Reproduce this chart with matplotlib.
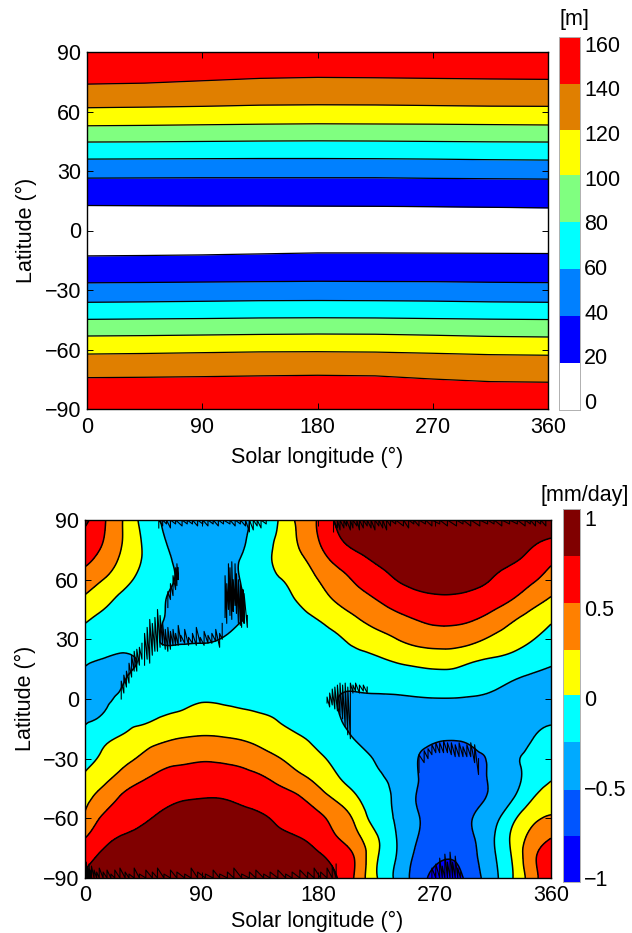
import numpy as np
import matplotlib
matplotlib.use("Agg")
import matplotlib.pyplot as plt
import matplotlib.tri as mtri
from matplotlib.colors import ListedColormap, BoundaryNorm

plt.rcParams['font.family'] = ['Liberation Sans', 'DejaVu Sans']
plt.rcParams['font.size'] = 15.5

W, H = 632, 933

# --- top panel: latitude of each contour level, read at these solar longitudes
top_ls = [0, 45, 90, 135, 180, 225, 270, 315, 360]
top_levels = [17, 38, 59, 80, 101, 121.5, 142, 163]
top_colors = ['#ffffff', '#0000ff', '#0080ff', '#00ffff', '#80ff80', '#ffff00', '#e07f00', '#ff0000']
top_cbar_ticks = [0, 20, 40, 60, 80, 100, 120, 140, 160]

north_17 = [12.6, 12.5, 12.4, 12.4, 12.3, 12.2, 12.0, 11.7, 11.4]
north_38 = [26.4, 26.5, 26.6, 26.6, 26.6, 26.6, 26.3, 26.1, 25.9]
north_59 = [36.0, 36.1, 36.2, 36.3, 36.3, 36.2, 36.0, 35.7, 35.5]
north_80 = [44.6, 44.7, 44.9, 45.1, 45.2, 45.1, 44.9, 44.7, 44.6]
north_101 = [52.8, 53.0, 53.3, 53.6, 53.8, 53.7, 53.6, 53.4, 53.2]
north_121 = [61.9, 62.2, 62.6, 63.2, 63.4, 63.3, 63.0, 62.7, 62.6]
north_142 = [73.8, 74.3, 75.5, 76.7, 77.2, 77.0, 76.7, 76.4, 76.2]
south_17 = [-12.8, -12.6, -12.3, -11.8, -11.3, -11.3, -11.4, -11.5, -11.6]
south_38 = [-26.4, -26.2, -26.0, -25.8, -25.6, -25.7, -25.8, -26.1, -26.3]
south_59 = [-36.2, -36.0, -35.7, -35.4, -35.3, -35.4, -35.6, -36.0, -36.2]
south_80 = [-44.8, -44.6, -44.4, -44.1, -44.0, -44.1, -44.4, -44.7, -44.9]
south_101 = [-53.2, -53.0, -52.7, -52.4, -52.2, -52.3, -52.8, -53.4, -53.7]
south_121 = [-62.3, -62.0, -61.6, -61.2, -61.1, -61.3, -61.9, -62.6, -62.9]
south_142 = [-74.2, -74.0, -73.7, -73.3, -73.0, -73.3, -74.9, -76.2, -76.5]

# --- bottom panel: field in mm/day, rows from 90N to 90S, columns every 15 deg
bot_ls = list(range(0, 361, 15))
bot_lat = list(range(90, -91, -10))
bot_levels = [-1.02, -0.767, -0.507, -0.243, 0.017, 0.27, 0.53, 0.79, 1.05]
bot_colors = ['#0000ff', '#0055ff', '#00aaff', '#00ffff', '#ffff00', '#ff8000', '#ff0000', '#800000']
bot_cbar_ticks = [-1, -0.5, 0, 0.5, 1]
bot_cbar_labels = ['\u22121', '\u22120.5', '0', '0.5', '1']

row_p90 = [0.85, 0.55, 0.25, -0.06, -0.26, -0.35, -0.36, -0.36, -0.32, -0.15, 0.03, 0.33, 0.55, 0.84, 0.95, 1.0, 1.0, 1.0, 1.0, 1.0, 1.0, 1.0, 1.0, 1.0, 1.0]
row_p80 = [0.70, 0.52, 0.25, -0.01, -0.22, -0.33, -0.36, -0.34, -0.28, -0.13, 0.07, 0.29, 0.52, 0.75, 0.88, 0.95, 0.98, 1.0, 1.0, 1.0, 1.0, 0.98, 0.92, 0.84, 0.77]
row_p70 = [0.59, 0.42, 0.20, 0.0, -0.17, -0.30, -0.33, -0.32, -0.24, -0.13, 0.10, 0.22, 0.40, 0.60, 0.72, 0.82, 0.88, 0.93, 0.95, 0.95, 0.92, 0.88, 0.82, 0.72, 0.58]
row_p60 = [0.40, 0.26, 0.10, -0.07, -0.19, -0.27, -0.31, -0.31, -0.24, -0.11, 0.0, 0.13, 0.27, 0.42, 0.57, 0.69, 0.79, 0.85, 0.87, 0.87, 0.85, 0.78, 0.68, 0.57, 0.42]
row_p50 = [0.23, 0.09, -0.05, -0.14, -0.23, -0.28, -0.30, -0.30, -0.26, -0.12, -0.06, 0.04, 0.17, 0.30, 0.42, 0.53, 0.63, 0.71, 0.75, 0.75, 0.71, 0.64, 0.53, 0.38, 0.24]
row_p40 = [0.05, -0.05, -0.10, -0.17, -0.24, -0.27, -0.28, -0.27, -0.25, -0.18, -0.12, -0.06, 0.02, 0.13, 0.25, 0.37, 0.46, 0.53, 0.58, 0.58, 0.54, 0.44, 0.30, 0.17, 0.05]
row_p30 = [-0.10, -0.13, -0.18, -0.20, -0.25, -0.26, -0.26, -0.24, -0.20, -0.17, -0.14, -0.10, -0.06, -0.01, 0.08, 0.16, 0.26, 0.35, 0.39, 0.39, 0.33, 0.22, 0.13, 0.03, -0.07]
row_p20 = [-0.21, -0.25, -0.26, -0.23, -0.20, -0.18, -0.17, -0.16, -0.15, -0.13, -0.12, -0.11, -0.10, -0.08, -0.05, -0.01, 0.05, 0.10, 0.13, 0.12, 0.05, 0.0, -0.05, -0.13, -0.20]
row_p10 = [-0.30, -0.31, -0.25, -0.20, -0.17, -0.15, -0.14, -0.13, -0.12, -0.12, -0.13, -0.14, -0.16, -0.19, -0.17, -0.15, -0.13, -0.10, -0.08, -0.08, -0.12, -0.17, -0.23, -0.28, -0.31]
row_000 = [-0.35, -0.28, -0.20, -0.14, -0.10, -0.05, -0.01, -0.02, -0.04, -0.07, -0.09, -0.12, -0.16, -0.24, -0.27, -0.27, -0.27, -0.26, -0.25, -0.25, -0.26, -0.28, -0.31, -0.34, -0.36]
row_m10 = [-0.27, -0.20, -0.07, -0.03, 0.04, 0.08, 0.13, 0.12, 0.09, 0.06, 0.0, -0.08, -0.15, -0.23, -0.29, -0.33, -0.36, -0.38, -0.38, -0.38, -0.37, -0.36, -0.34, -0.30, -0.27]
row_m20 = [-0.19, -0.03, 0.05, 0.15, 0.23, 0.28, 0.30, 0.29, 0.26, 0.20, 0.12, 0.05, -0.05, -0.15, -0.26, -0.33, -0.39, -0.45, -0.49, -0.50, -0.48, -0.43, -0.36, -0.25, -0.18]
row_m30 = [-0.06, 0.07, 0.20, 0.32, 0.43, 0.47, 0.50, 0.49, 0.46, 0.38, 0.28, 0.17, 0.06, -0.04, -0.15, -0.26, -0.35, -0.49, -0.55, -0.55, -0.53, -0.47, -0.30, -0.18, -0.07]
row_m40 = [0.06, 0.21, 0.38, 0.51, 0.61, 0.66, 0.67, 0.66, 0.62, 0.57, 0.46, 0.34, 0.20, 0.04, -0.10, -0.20, -0.31, -0.48, -0.58, -0.60, -0.58, -0.47, -0.33, -0.14, 0.0]
row_m50 = [0.20, 0.40, 0.58, 0.68, 0.75, 0.78, 0.79, 0.79, 0.76, 0.72, 0.65, 0.56, 0.40, 0.23, 0.04, -0.15, -0.28, -0.50, -0.60, -0.62, -0.58, -0.45, -0.26, 0.0, 0.16]
row_m60 = [0.32, 0.58, 0.68, 0.76, 0.82, 0.86, 0.88, 0.87, 0.85, 0.82, 0.75, 0.67, 0.59, 0.42, 0.20, -0.10, -0.26, -0.46, -0.60, -0.62, -0.50, -0.33, -0.05, 0.20, 0.30]
row_m70 = [0.53, 0.72, 0.82, 0.88, 0.93, 0.96, 0.97, 0.97, 0.96, 0.92, 0.85, 0.80, 0.70, 0.54, 0.33, 0.05, -0.23, -0.48, -0.62, -0.62, -0.52, -0.27, 0.06, 0.35, 0.53]
row_m80 = [0.72, 0.85, 0.93, 0.98, 1.0, 1.0, 1.0, 1.0, 1.0, 0.98, 0.95, 0.90, 0.83, 0.72, 0.48, 0.05, -0.24, -0.55, -0.72, -0.75, -0.57, -0.29, 0.03, 0.45, 0.68]
row_m90 = [0.83, 0.92, 1.0, 1.0, 1.0, 1.0, 1.0, 1.0, 1.0, 1.0, 0.98, 0.95, 0.88, 0.79, 0.46, 0.04, -0.28, -0.60, -0.83, -0.85, -0.63, -0.33, 0.0, 0.40, 0.75]

# noisy contour stretches of the bottom panel: longitude, lowest and highest latitude
noise_a_ls = [108.2, 109.5, 110.8, 112, 113.4, 114.5, 115.9, 117, 118.5, 120, 121, 122, 122.9, 125.4]
noise_a_lo = [41, 38, 45, 42, 40, 44, 47, 43, 38, 37, 36, 39, 38, 36]
noise_a_hi = [62, 58, 68, 66, 69, 60, 68, 63, 60, 58, 56, 55, 53, 42]
noise_b_ls = [46, 48, 50, 52, 54, 56, 58, 60, 62, 64, 66, 68, 70, 72, 74, 77, 80, 83, 86, 89, 92, 95, 98, 101, 104, 106]
noise_b_lo = [17, 20, 18, 22, 24, 24, 26, 27, 25, 24, 25, 27, 27, 27, 29, 28, 27, 28, 27, 28, 27, 28, 28, 29, 26, 30]
noise_b_hi = [33, 36, 40, 38, 41, 45, 42, 38, 35, 36, 34, 35, 33, 37, 32, 35, 31, 33, 36, 31, 34, 32, 33, 35, 33, 38]
noise_c_ls = [28, 30, 32, 34, 36, 38, 40, 42, 44]
noise_c_lo = [0, 3, 6, 8, 11, 14, 14, 17, 20]
noise_c_hi = [9, 12, 14, 18, 22, 24, 25, 26, 28]
noise_d_ls = [1, 2, 3, 4, 5, 7, 9, 11, 14, 17, 20, 23, 27, 31, 34, 38, 42, 47, 52, 56, 61, 66, 71, 77, 82, 87, 93, 99, 104, 110, 115, 121, 127, 132, 138, 143, 149, 155, 160, 166, 172, 177, 182, 187, 191, 194]
noise_d_lo = [-90] * len(noise_d_ls)
noise_d_hi = [-82, -85, -83, -86, -84, -86, -87, -85, -87, -86, -88, -86, -85, -87, -88, -85, -88, -86, -87, -85, -88, -86, -87, -88, -85, -87, -88, -86, -88, -87, -85, -88, -87, -86, -88, -87, -86, -88, -87, -86, -87, -85, -87, -85, -84, -83]
noise_e_ls = [192, 195, 197, 200, 202, 205, 207, 210, 212, 215, 218, 221, 224, 227, 230, 233, 236, 240, 246, 250, 254, 258, 263, 268, 274, 280, 287, 292, 298, 305, 311, 316, 322, 328, 334, 340, 344, 348, 352, 356]
noise_e_lo = [84, 86, 85, 86, 87, 85, 86, 87, 85, 86, 87, 86, 85, 87, 86, 85, 87, 88, 87, 86, 88, 87, 88, 87, 88, 87, 87, 88, 87, 87, 88, 88, 87, 88, 88, 87, 88, 87, 88, 87]
noise_e_hi = [90] * len(noise_e_ls)
noise_f_ls = [57, 60, 63, 66, 70, 75, 79, 83, 87, 91, 95, 99, 103, 107, 112, 116, 120, 124, 127, 130, 133, 136, 140]
noise_f_lo = [86, 87, 88, 86, 88, 87, 88, 88, 87, 88, 87, 88, 87, 88, 88, 87, 88, 87, 84, 85, 87, 86, 88]
noise_f_hi = [90] * len(noise_f_ls)
noise_g_ls = [258, 262, 265, 268, 271, 274, 277, 280, 283, 286, 289, 292, 295, 298, 301, 304]
noise_g_lo = [-37, -32, -30, -28, -27, -27, -27, -27, -28, -29, -29, -29, -29, -29, -32, -38]
noise_g_hi = [-28, -26, -25, -23, -22, -22, -21, -22, -22, -23, -22, -24, -23, -22, -23, -30]
noise_h_ls = [268, 271, 274, 276, 278, 280, 282, 284, 286, 288, 290]
noise_h_lo = [-90] * len(noise_h_ls)
noise_h_hi = [-85, -83, -80, -84, -78, -82, -77, -82, -79, -85, -87]
noise_i_ls = [187, 189, 191, 193, 195, 197, 199, 201, 203, 205, 207, 209, 212, 215, 218]
noise_i_lo = [-2, -4, -3, -5, -6, -8, -10, -14, -18, -20, 3, 4, 3, 4, 3]
noise_i_hi = [1, 3, 5, 6, 7, 8, 7, 8, 6, 8, 7, 8, 7, 7, 6]
noise_j_ls = [64, 66, 68, 70, 71, 72]
noise_j_lo = [46, 50, 52, 55, 57, 60]
noise_j_hi = [54, 58, 62, 66, 68, 66]

noise_sets = [
    (noise_a_ls, noise_a_lo, noise_a_hi),
    (noise_b_ls, noise_b_lo, noise_b_hi),
    (noise_c_ls, noise_c_lo, noise_c_hi),
    (noise_d_ls, noise_d_lo, noise_d_hi),
    (noise_e_ls, noise_e_lo, noise_e_hi),
    (noise_f_ls, noise_f_lo, noise_f_hi),
    (noise_g_ls, noise_g_lo, noise_g_hi),
    (noise_h_ls, noise_h_lo, noise_h_hi),
    (noise_i_ls, noise_i_lo, noise_i_hi),
    (noise_j_ls, noise_j_lo, noise_j_hi),
]


def px_axes(fig, left, right, top, bottom):
    return fig.add_axes([left / W, 1 - bottom / H, (right - left) / W, (bottom - top) / H])


def style_map(ax, xpad):
    ax.set_xlim(0, 360)
    ax.set_ylim(-90, 90)
    ax.set_xticks([0, 90, 180, 270, 360])
    ax.set_yticks([-90, -60, -30, 0, 30, 60, 90])
    ax.set_yticklabels(['\u221290', '\u221260', '\u221230', '0', '30', '60', '90'])
    ax.tick_params(direction='in', top=True, right=True, length=4, width=0.7, pad=4)
    ax.tick_params(axis='x', pad=xpad)
    for s in ax.spines.values():
        s.set_linewidth(1.0)


def draw_cbar(ax, levels, colors, ticks, labels):
    ax.pcolormesh([0, 1], levels, np.arange(len(colors)).reshape(-1, 1),
                  cmap=ListedColormap(colors), shading='flat')
    ax.set_ylim(levels[0], levels[-1])
    ax.set_xticks([])
    ax.yaxis.tick_right()
    ax.set_yticks(ticks)
    ax.set_yticklabels(labels)
    ax.tick_params(length=0, pad=3)
    for s in ax.spines.values():
        s.set_color('#b0b0b0')
        s.set_linewidth(0.7)


fig = plt.figure(figsize=(W / 100, H / 100), dpi=100)

# top panel
ax1 = px_axes(fig, 87, 548, 52, 409)
north = [north_17, north_38, north_59, north_80, north_101, north_121, north_142]
south = [south_17, south_38, south_59, south_80, south_101, south_121, south_142]
for i, band_color in enumerate(top_colors):
    if i == 0:
        ax1.fill_between(top_ls, south[0], north[0], color=band_color, lw=0)
    else:
        upper_n = north[i] if i < len(north) else [90] * len(top_ls)
        ax1.fill_between(top_ls, north[i - 1], upper_n, color=band_color, lw=0)
        lower_s = south[i] if i < len(south) else [-90] * len(top_ls)
        ax1.fill_between(top_ls, lower_s, south[i - 1], color=band_color, lw=0)
for line in north + south:
    ax1.plot(top_ls, line, color='black', lw=0.9)
style_map(ax1, 6)
fig.text(317 / W, 1 - 457 / H, 'Solar longitude (\u00b0)', ha='center', va='center')
fig.text(26 / W, 1 - 230 / H, 'Latitude (\u00b0)', ha='center', va='center', rotation=90)

cax1 = px_axes(fig, 559, 580, 37, 410)
draw_cbar(cax1, [-4] + top_levels, top_colors, top_cbar_ticks, [str(t) for t in top_cbar_ticks])
fig.text(574 / W, 1 - 19 / H, '[m]', ha='center', va='center')

# bottom panel
Z = np.array([row_p90, row_p80, row_p70, row_p60, row_p50, row_p40, row_p30, row_p20, row_p10, row_000,
              row_m10, row_m20, row_m30, row_m40, row_m50, row_m60, row_m70, row_m80, row_m90])
ax2 = px_axes(fig, 85, 551, 520, 878)
# refine the read grid so the contours come out round, as in the figure
ls_mesh, lat_mesh = np.meshgrid(bot_ls, bot_lat)
tri = mtri.Triangulation(ls_mesh.ravel(), lat_mesh.ravel())
fine_tri, fine_z = mtri.UniformTriRefiner(tri).refine_field(Z.ravel(), subdiv=3)
fine_z = np.clip(fine_z, -1.0, 1.04)
ax2.tricontourf(fine_tri, fine_z, levels=bot_levels, cmap=ListedColormap(bot_colors),
                norm=BoundaryNorm(bot_levels, len(bot_colors)))
ax2.tricontour(fine_tri, fine_z, levels=bot_levels[1:-1], colors='black', linewidths=1.1, linestyles='solid')
# jagged stretches: zigzag between the low and high latitude read at each longitude
for n_ls, n_lo, n_hi in noise_sets:
    zig_x = np.repeat(n_ls, 2)
    zig_y = np.column_stack([n_lo, n_hi]).ravel()
    ax2.plot(zig_x, zig_y, color='black', lw=0.8)
style_map(ax2, 5)
fig.text(317 / W, 1 - 921 / H, 'Solar longitude (\u00b0)', ha='center', va='center')
fig.text(25 / W, 1 - 698 / H, 'Latitude (\u00b0)', ha='center', va='center', rotation=90)

cax2 = px_axes(fig, 563, 580, 509, 882)
draw_cbar(cax2, bot_levels, bot_colors, bot_cbar_ticks, bot_cbar_labels)
fig.text(585 / W, 1 - 496 / H, '[mm/day]', ha='center', va='center')

fig.savefig('out.png', dpi=100)
